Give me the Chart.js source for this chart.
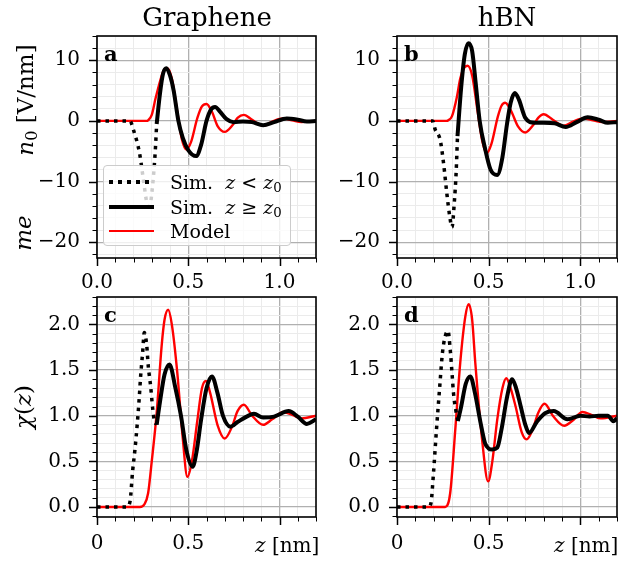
<!DOCTYPE html>
<html>
<head>
<meta charset="utf-8">
<script src="https://cdn.jsdelivr.net/npm/chart.js@4.4.0/dist/chart.umd.min.js"></script>
<style>
  body { margin: 0; background: #fff; width: 621px; height: 561px; position: relative; overflow: hidden; font-family: 'DejaVu Serif', serif; color: #000; }
  canvas { position: absolute; }
  .txt { position: absolute; white-space: nowrap; line-height: 1; }
  .rot { transform: translate(-50%, -50%) rotate(-90deg); }
  .title { font-size: 26px; width: 220px; text-align: center; }
  .panel { font-size: 21px; font-weight: bold; }
  .ylab { font-size: 23px; }
  .xlab { font-size: 20px; }
  sub { font-size: 0.7em; vertical-align: -0.25em; line-height: 0; }
  #legend { position: absolute; left: 103px; top: 165px; width: 188px; height: 81px; background: rgba(255,255,255,0.8); border: 1px solid #cccccc; border-radius: 4px; box-sizing: border-box; }
  #legend .row { position: absolute; left: 0; height: 24px; width: 100%; }
  #legend .sample { position: absolute; left: 5px; width: 45px; top: 50%; }
  #legend .label { position: absolute; left: 66px; top: 0; line-height: 24px; font-size: 19px; }
</style>
</head>
<body>
<canvas id="cA" width="280" height="272" style="left:40px;top:26px"></canvas>
<canvas id="cB" width="281" height="272" style="left:340px;top:26px"></canvas>
<canvas id="cC" width="280" height="268" style="left:40px;top:287px"></canvas>
<canvas id="cD" width="281" height="268" style="left:340px;top:287px"></canvas>

<div class="txt title" style="left:97px;top:4px">Graphene</div>
<div class="txt title" style="left:397px;top:4px">hBN</div>
<div class="txt panel" style="left:104px;top:43px">a</div>
<div class="txt panel" style="left:404px;top:43px">b</div>
<div class="txt panel" style="left:104px;top:304px">c</div>
<div class="txt panel" style="left:404px;top:304px">d</div>
<div class="txt ylab rot" style="left:25px;top:100px"><i>n</i><sub>0</sub> [V/nm]</div>
<div class="txt ylab rot" style="left:23px;top:233px"><i>me</i></div>
<div class="txt ylab rot" style="left:23px;top:407px"><i>&chi;</i>(<i>z</i>)</div>
<div class="txt xlab" style="left:255px;top:535px"><i>z</i> [nm]</div>
<div class="txt xlab" style="left:554px;top:535px"><i>z</i> [nm]</div>
<div id="legend"></div>

<script>
// Graphene, n0 [V/nm]
var zDotA = [0, 0.10, 0.18, 0.20, 0.233, 0.252, 0.27, 0.285, 0.30, 0.318, 0.327];
var nDotA = [0, 0, 0, -1.5, -5.3, -9.2, -13.0, -14.8, -12.0, -5.6, -0.5];
var zSimA = [0.327, 0.345, 0.362, 0.38, 0.40, 0.42, 0.446, 0.47, 0.50, 0.543, 0.57, 0.60, 0.625, 0.647, 0.675, 0.71, 0.75, 0.80, 0.85, 0.91, 0.97, 1.04, 1.10, 1.15, 1.20];
var nSimA = [-0.5, 4.5, 7.8, 8.7, 7.5, 5.0, 0.0, -2.8, -4.8, -5.8, -4.0, 0.0, 1.9, 2.3, 1.5, 0.3, -0.2, -0.1, -0.2, -0.7, -0.2, 0.4, 0.2, -0.1, 0.0];
var zModA = [0, 0.27, 0.28, 0.30, 0.32, 0.345, 0.365, 0.385, 0.41, 0.44, 0.465, 0.49, 0.515, 0.55, 0.575, 0.60, 0.63, 0.66, 0.70, 0.74, 0.77, 0.805, 0.85, 0.91, 0.96, 1.02, 1.07, 1.12, 1.20];
var nModA = [0, 0, 0.1, 1.0, 3.6, 6.5, 8.3, 8.7, 7.0, 1.5, -3.0, -4.7, -3.5, 0.5, 2.4, 2.8, 1.5, -0.8, -1.8, -0.8, 0.5, 1.0, 0.2, -0.8, -0.1, 0.4, 0.1, -0.2, 0];

// hBN, n0 [V/nm]
var zDotB = [0, 0.10, 0.195, 0.208, 0.236, 0.254, 0.272, 0.287, 0.30, 0.312, 0.323, 0.33];
var nDotB = [0, 0, 0, -1.4, -3.2, -7.0, -12.0, -15.6, -17.5, -13.7, -8.2, -2.5];
var zSimB = [0.33, 0.35, 0.37, 0.39, 0.41, 0.43, 0.451, 0.48, 0.51, 0.547, 0.575, 0.60, 0.62, 0.643, 0.665, 0.70, 0.75, 0.80, 0.86, 0.92, 0.98, 1.04, 1.10, 1.15, 1.20];
var nSimB = [-2.5, 5.5, 11.0, 12.8, 11.5, 6.0, 0.0, -4.5, -8.0, -8.9, -6.0, -0.5, 3.0, 4.6, 3.5, 0.5, -0.3, -0.3, -0.4, -1.0, -0.2, 0.6, 0.2, -0.3, -0.2];
var zModB = [0, 0.27, 0.28, 0.30, 0.327, 0.345, 0.365, 0.385, 0.41, 0.44, 0.465, 0.49, 0.515, 0.55, 0.57, 0.59, 0.62, 0.66, 0.70, 0.74, 0.77, 0.80, 0.85, 0.91, 0.96, 1.02, 1.07, 1.12, 1.20];
var nModB = [0, 0, 0.1, 0.8, 4.0, 7.0, 8.7, 9.1, 7.5, 1.5, -3.3, -5.3, -3.8, 0.7, 2.5, 3.0, 1.8, -0.9, -1.9, -0.8, 0.5, 1.1, 0.2, -0.8, -0.1, 0.4, 0.1, -0.2, 0];

// Graphene, chi(z)
var zDotC = [0, 0.10, 0.163, 0.181, 0.195, 0.208, 0.221, 0.232, 0.239, 0.25, 0.259, 0.272, 0.281, 0.294, 0.305, 0.314, 0.327];
var chiDotC = [0, 0, 0, 0.06, 0.39, 0.63, 0.92, 1.21, 1.43, 1.69, 1.91, 1.78, 1.54, 1.32, 1.08, 0.95, 0.9];
var zSimC = [0.327, 0.345, 0.37, 0.397, 0.43, 0.46, 0.49, 0.524, 0.545, 0.57, 0.60, 0.63, 0.66, 0.69, 0.73, 0.77, 0.82, 0.86, 0.91, 0.97, 1.05, 1.10, 1.15, 1.20];
var chiSimC = [0.9, 1.15, 1.45, 1.56, 1.3, 1.0, 0.62, 0.44, 0.6, 0.95, 1.3, 1.43, 1.25, 1.0, 0.88, 0.93, 0.99, 1.02, 0.98, 0.99, 1.05, 0.99, 0.91, 0.96];
var zModC = [0, 0.235, 0.26, 0.28, 0.30, 0.327, 0.354, 0.37, 0.39, 0.41, 0.44, 0.47, 0.495, 0.52, 0.55, 0.575, 0.597, 0.62, 0.66, 0.70, 0.74, 0.77, 0.805, 0.85, 0.91, 0.96, 1.02, 1.07, 1.12, 1.20];
var chiModC = [0, 0, 0.03, 0.15, 0.5, 1.03, 1.76, 2.05, 2.16, 2.0, 1.47, 0.75, 0.33, 0.5, 0.95, 1.3, 1.38, 1.25, 0.9, 0.75, 0.88, 1.05, 1.12, 1.0, 0.90, 0.96, 1.04, 1.01, 0.97, 1.0];

// hBN, chi(z)
var zDotD = [0, 0.10, 0.172, 0.185, 0.199, 0.214, 0.232, 0.248, 0.263, 0.278, 0.29, 0.30, 0.308, 0.32, 0.332];
var chiDotD = [0, 0, 0, 0.04, 0.37, 0.81, 1.29, 1.69, 1.87, 1.93, 1.73, 1.47, 1.25, 1.07, 0.94];
var zSimD = [0.332, 0.35, 0.375, 0.40, 0.425, 0.455, 0.48, 0.50, 0.52, 0.547, 0.57, 0.60, 0.628, 0.65, 0.675, 0.70, 0.72, 0.765, 0.81, 0.855, 0.93, 1.0, 1.05, 1.10, 1.15, 1.18, 1.20];
var chiSimD = [0.94, 1.1, 1.35, 1.43, 1.25, 0.93, 0.7, 0.64, 0.63, 0.65, 0.85, 1.2, 1.40, 1.3, 1.1, 0.9, 0.81, 0.94, 1.03, 1.05, 0.96, 1.0, 0.99, 1.0, 1.0, 0.94, 0.97];
var zModD = [0, 0.263, 0.29, 0.318, 0.345, 0.373, 0.391, 0.41, 0.427, 0.464, 0.497, 0.52, 0.547, 0.575, 0.596, 0.62, 0.647, 0.68, 0.707, 0.74, 0.77, 0.805, 0.85, 0.912, 0.96, 1.012, 1.06, 1.112, 1.20];
var chiModD = [0, 0, 0.15, 0.85, 1.58, 2.09, 2.22, 2.05, 1.58, 0.74, 0.28, 0.5, 0.96, 1.3, 1.41, 1.3, 1.1, 0.82, 0.74, 0.85, 1.03, 1.13, 1.0, 0.89, 0.95, 1.04, 1.01, 0.97, 1.0];

// ticks
var xMajor = [0, 0.5, 1.0];
var xLabelsTop = ['0.0', '0.5', '1.0'];
var xLabelsBottom = ['0', '0.5', ''];
var nMajor = [-20, -10, 0, 10];
var nLabels = ['\u221220', '\u221210', '0', '10'];
var chiMajor = [0, 0.5, 1.0, 1.5, 2.0];
var chiLabels = ['0.0', '0.5', '1.0', '1.5', '2.0'];

var legendLabels = ['Sim. &nbsp;<i>z</i> &lt; <i>z</i><sub>0</sub>', 'Sim. &nbsp;<i>z</i> &ge; <i>z</i><sub>0</sub>', 'Model'];

var FONT = "'DejaVu Serif', serif";

function pts(xs, ys) {
  return xs.map(function(x, i) { return { x: x, y: ys[i] }; });
}

function steps(lo, hi, step) {
  var out = [];
  for (var i = Math.ceil(lo / step - 1e-9); i * step <= hi + 1e-9; i++) out.push(+(i * step).toFixed(6));
  return out;
}

function findIdx(arr, v) {
  for (var i = 0; i < arr.length; i++) if (Math.abs(arr[i] - v) < 1e-6) return i;
  return -1;
}

// outside ticks and the full frame
var frameTicks = {
  id: 'frameTicks',
  afterDraw: function(chart) {
    var ctx = chart.ctx, a = chart.chartArea;
    var xs = chart.scales.x, ys = chart.scales.y;
    var xm = chart.options.plugins.frameTicks.xMajor, ym = chart.options.plugins.frameTicks.yMajor;
    ctx.save();
    ctx.strokeStyle = '#000';
    xs.ticks.forEach(function(t) {
      var major = findIdx(xm, t.value) >= 0;
      var px = Math.round(xs.getPixelForValue(t.value)) + 0.5;
      ctx.lineWidth = major ? 1.5 : 1;
      ctx.beginPath(); ctx.moveTo(px, a.bottom); ctx.lineTo(px, a.bottom + (major ? 8 : 4.5)); ctx.stroke();
    });
    ys.ticks.forEach(function(t) {
      var major = findIdx(ym, t.value) >= 0;
      var py = Math.round(ys.getPixelForValue(t.value)) + 0.5;
      ctx.lineWidth = major ? 1.5 : 1;
      ctx.beginPath(); ctx.moveTo(a.left, py); ctx.lineTo(a.left - (major ? 8 : 4.5), py); ctx.stroke();
    });
    ctx.lineWidth = 1.6;
    ctx.strokeRect(a.left, a.top, a.right - a.left, a.bottom - a.top);
    ctx.restore();
  }
};

function noPad(s) {
  s.paddingTop = 0; s.paddingBottom = 0; s.paddingLeft = 0; s.paddingRight = 0;
}

function makePanel(id, dot, sim, mod, opt) {
  var xTicks = steps(0, 1.2, 0.1);
  var yTicks = steps(opt.yMin, opt.yMax, opt.yMinor);
  new Chart(document.getElementById(id), {
    type: 'line',
    data: {
      datasets: [
        { label: 'Sim. z < z0', data: dot, borderColor: '#000', borderWidth: 3.5, borderDash: [3.5, 5], pointRadius: 0, cubicInterpolationMode: 'monotone' },
        { label: 'Sim. z >= z0', data: sim, borderColor: '#000', borderWidth: 4, pointRadius: 0, cubicInterpolationMode: 'monotone' },
        { label: 'Model', data: mod, borderColor: '#ff0000', borderWidth: 2.4, pointRadius: 0, cubicInterpolationMode: 'monotone' }
      ]
    },
    options: {
      responsive: false,
      animation: false,
      events: [],
      layout: { padding: { top: 10, right: 4, left: 0, bottom: opt.bottomPad } },
      plugins: {
        legend: { display: false },
        tooltip: { enabled: false },
        frameTicks: { xMajor: xMajor, yMajor: opt.yMajor }
      },
      scales: {
        x: {
          type: 'linear', min: 0, max: 1.2,
          afterFit: function(s) { s.height = opt.xHeight; noPad(s); },
          afterBuildTicks: function(s) { s.ticks = xTicks.map(function(v) { return { value: v }; }); },
          border: { display: false },
          grid: {
            drawTicks: false,
            color: function(c) { return findIdx(xMajor, c.tick.value) >= 0 ? '#b0b0b0' : '#ebebeb'; },
            lineWidth: function(c) { return findIdx(xMajor, c.tick.value) >= 0 ? 1.3 : 1; }
          },
          ticks: {
            autoSkip: false, maxRotation: 0, padding: opt.xPad, color: '#000',
            font: { family: FONT, size: 20 },
            callback: function(v) { var i = findIdx(xMajor, v); return i >= 0 ? opt.xLabels[i] : ''; }
          }
        },
        y: {
          type: 'linear', min: opt.yMin, max: opt.yMax,
          afterFit: function(s) { s.width = 57; noPad(s); },
          afterBuildTicks: function(s) { s.ticks = yTicks.map(function(v) { return { value: v }; }); },
          border: { display: false },
          grid: {
            drawTicks: false,
            color: function(c) { return findIdx(opt.yMajor, c.tick.value) >= 0 ? '#b0b0b0' : '#ebebeb'; },
            lineWidth: function(c) { return findIdx(opt.yMajor, c.tick.value) >= 0 ? 1.3 : 1; }
          },
          ticks: {
            autoSkip: false, padding: 17, color: '#000',
            font: { family: FONT, size: 20 },
            callback: function(v) { var i = findIdx(opt.yMajor, v); return i >= 0 ? opt.yLabels[i] : ''; }
          }
        }
      }
    },
    plugins: [frameTicks]
  });
}

var topOpt = { yMin: -22.6, yMax: 14.0, yMinor: 2, yMajor: nMajor, yLabels: nLabels, xLabels: xLabelsTop, xHeight: 40, xPad: 13, bottomPad: 0 };
var botOpt = { yMin: -0.11, yMax: 2.30, yMinor: 0.1, yMajor: chiMajor, yLabels: chiLabels, xLabels: xLabelsBottom, xHeight: 36, xPad: 15, bottomPad: 2 };

makePanel('cA', pts(zDotA, nDotA), pts(zSimA, nSimA), pts(zModA, nModA), topOpt);
makePanel('cB', pts(zDotB, nDotB), pts(zSimB, nSimB), pts(zModB, nModB), topOpt);
makePanel('cC', pts(zDotC, chiDotC), pts(zSimC, chiSimC), pts(zModC, chiModC), botOpt);
makePanel('cD', pts(zDotD, chiDotD), pts(zSimD, chiSimD), pts(zModD, chiModD), botOpt);

// legend for panel a
var samples = [
  'height:4px;margin-top:-2px;background:repeating-linear-gradient(to right,#000 0 4px,transparent 4px 9px);',
  'height:4px;margin-top:-2px;background:#000;',
  'height:2px;margin-top:-1px;background:#ff0000;'
];
var lg = document.getElementById('legend');
legendLabels.forEach(function(lab, i) {
  var row = document.createElement('div');
  row.className = 'row';
  row.style.top = (4 + i * 24.5) + 'px';
  row.innerHTML = '<div class="sample" style="' + samples[i] + '"></div><div class="label">' + lab + '</div>';
  lg.appendChild(row);
});
</script>
</body>
</html>
